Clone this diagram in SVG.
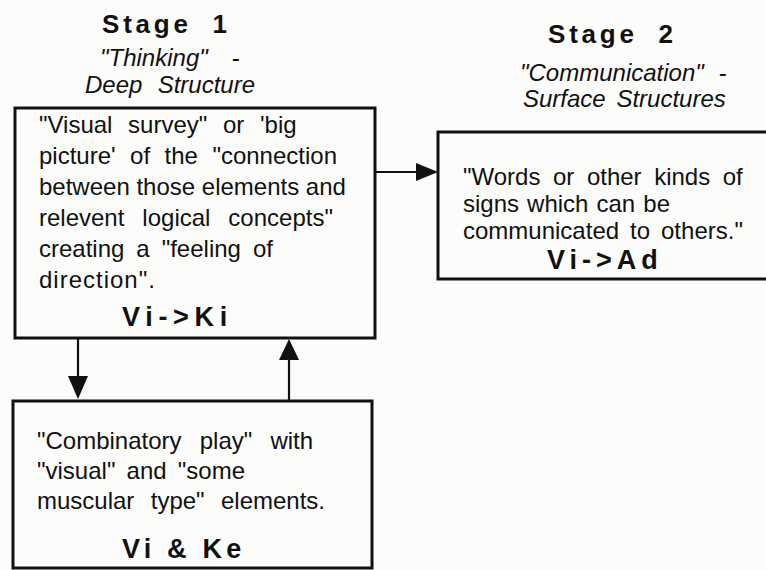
<svg xmlns="http://www.w3.org/2000/svg" width="766" height="570" viewBox="0 0 766 570">
  <defs>
    <style>
      .box { fill: none; stroke: #111; stroke-width: 3; }
      .wire { fill: none; stroke: #111; stroke-width: 2.2; }
      .head { fill: #111; stroke: none; }
      .title { font-family: "Liberation Sans", Arial, sans-serif; font-weight: bold; font-size: 26px; fill: #111; letter-spacing: 3.8px; }
      .sub { font-family: "Liberation Sans", Arial, sans-serif; font-style: italic; font-size: 24px; fill: #111; }
      .body { font-family: "Liberation Sans", Arial, sans-serif; font-size: 24px; fill: #111; }
      .code { font-family: "Liberation Sans", Arial, sans-serif; font-weight: bold; font-size: 27px; fill: #111; }
    </style>
  </defs>
  <rect width="766" height="570" fill="#fcfcfa"/>

  <!-- column headings -->
  <g id="heading-stage1">
    <text class="title" x="102" y="33" word-spacing="9.7">Stage 1</text>
    <text class="sub" x="100" y="66" word-spacing="17">"Thinking" -</text>
    <text class="sub" x="85" y="93" word-spacing="8.6">Deep Structure</text>
  </g>
  <g id="heading-stage2">
    <text class="title" x="548" y="43" word-spacing="9.7">Stage 2</text>
    <text class="sub" x="520" y="81" word-spacing="8">"Communication" -</text>
    <text class="sub" x="523" y="107" word-spacing="4">Surface Structures</text>
  </g>

  <!-- Stage 1 box -->
  <g id="node-visual-survey">
    <rect class="box" x="15" y="108" width="360" height="230"/>
    <text class="body" x="39" y="133" word-spacing="9">"Visual survey" or 'big</text>
    <text class="body" x="39" y="164" word-spacing="7.8">picture' of the "connection</text>
    <text class="body" x="39" y="195">between those elements and</text>
    <text class="body" x="39" y="226" word-spacing="11.3">relevent logical concepts"</text>
    <text class="body" x="39" y="257" word-spacing="5.3">creating a "feeling of</text>
    <text class="body" x="39" y="288" letter-spacing="1">direction".</text>
    <text class="code" x="122" y="326" letter-spacing="5.7">Vi-&gt;Ki</text>
  </g>

  <!-- Stage 2 box (runs off the right edge) -->
  <g id="node-words-signs">
    <rect class="box" x="438" y="132" width="345" height="147"/>
    <text class="body" x="463" y="185" word-spacing="5.9">"Words or other kinds of</text>
    <text class="body" x="463" y="212" word-spacing="1.4">signs which can be</text>
    <text class="body" x="463" y="239" word-spacing="4.3">communicated to others."</text>
    <text class="code" x="547" y="269" letter-spacing="5">Vi-&gt;Ad</text>
  </g>

  <!-- combinatory play box -->
  <g id="node-combinatory-play">
    <rect class="box" x="13" y="401" width="359" height="167"/>
    <text class="body" x="37" y="449" word-spacing="11.5">"Combinatory play" with</text>
    <text class="body" x="37" y="479" word-spacing="4.5">"visual" and "some</text>
    <text class="body" x="37" y="509" word-spacing="9.7">muscular type" elements.</text>
    <text class="code" x="122" y="558" letter-spacing="4.2">Vi &amp; Ke</text>
  </g>

  <!-- connectors -->
  <g id="connectors">
    <line class="wire" x1="376" y1="172" x2="420" y2="172"/>
    <polygon class="head" points="416,163 438,172 416,181"/>
    <line class="wire" x1="78" y1="339" x2="78" y2="380"/>
    <polygon class="head" points="68,376 88,376 78,399"/>
    <line class="wire" x1="289" y1="400" x2="289" y2="356"/>
    <polygon class="head" points="279,360 299,360 289,339"/>
  </g>
</svg>
